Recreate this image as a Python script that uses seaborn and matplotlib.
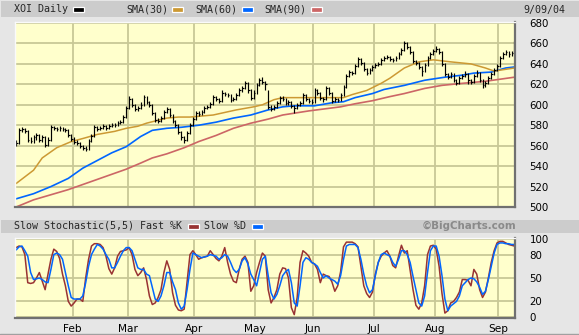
import numpy as np
import pandas as pd
import matplotlib
matplotlib.use("Agg")
import matplotlib.pyplot as plt
from matplotlib.patches import Rectangle
import seaborn as sns

# ---------------- data ----------------
months = ['Feb', 'Mar', 'Apr', 'May', 'Jun', 'Jul', 'Aug', 'Sep']
month_start_idx = [20, 39, 62, 83, 103, 124, 145, 167]

closes = [563, 575, 576, 574, 566, 565, 568, 570, 566, 568,
          561, 566, 578, 577, 576, 577, 576, 575, 570, 567,
          564, 563, 560, 558, 557, 565, 569, 578, 576, 577,
          579, 577, 579, 580, 580, 582, 583, 588, 597, 606,
          600, 596, 597, 600, 608, 603, 600, 592, 585, 584,
          587, 593, 596, 590, 584, 580, 573, 568, 566, 572,
          580, 586, 592, 591, 593, 597, 598, 601, 608, 606,
          604, 612, 611, 610, 605, 606, 610, 614, 616, 621,
          614, 607, 612, 619, 624, 622, 620, 598, 596, 598,
          602, 607, 606, 602, 603, 599, 597, 600, 602, 610,
          606, 604, 603, 614, 612, 607, 606, 616, 612, 604,
          606, 605, 610, 617, 628, 632, 631, 638, 645, 641,
          635, 631, 634, 637, 639, 640, 644, 646, 647, 645,
          644, 646, 650, 654, 660, 657, 652, 643, 641, 637,
          633, 639, 646, 650, 653, 655, 652, 640, 630, 627,
          630, 624, 621, 626, 628, 630, 624, 622, 628, 631,
          624, 619, 621, 626, 630, 634, 638, 646, 650, 652,
          650, 651, 660]

highs = [566, 577, 578, 577, 575, 568, 570, 572, 571, 570,
         569, 568, 580, 579, 578, 579, 578, 577, 576, 571,
         568, 566, 564, 561, 560, 567, 571, 580, 579, 579,
         581, 580, 581, 582, 582, 584, 585, 590, 599, 609,
         607, 601, 599, 603, 610, 609, 604, 601, 593, 587,
         589, 595, 598, 597, 591, 585, 581, 574, 569, 574,
         582, 588, 594, 594, 595, 599, 600, 603, 610, 609,
         607, 614, 613, 612, 611, 608, 612, 616, 618, 623,
         622, 615, 614, 621, 626, 627, 623, 614, 600, 600,
         604, 609, 609, 607, 605, 604, 600, 602, 604, 612,
         611, 607, 606, 616, 615, 613, 608, 618, 617, 613,
         608, 607, 612, 619, 630, 634, 633, 640, 647, 646,
         642, 636, 636, 639, 641, 642, 646, 648, 649, 648,
         646, 648, 652, 656, 662, 661, 658, 653, 644, 642,
         638, 641, 648, 652, 655, 658, 656, 653, 641, 631,
         632, 631, 625, 628, 630, 633, 631, 625, 630, 634,
         632, 625, 623, 628, 632, 636, 640, 648, 652, 654,
         653, 653, 662]

lows = [560, 562, 573, 572, 564, 563, 563, 566, 564, 564,
        559, 560, 565, 575, 574, 574, 574, 573, 568, 565,
        562, 561, 558, 556, 555, 556, 564, 568, 574, 575,
        576, 575, 576, 578, 578, 579, 581, 582, 587, 596,
        598, 594, 594, 596, 599, 601, 598, 590, 583, 582,
        583, 586, 592, 588, 582, 578, 571, 566, 563, 565,
        571, 579, 585, 589, 590, 592, 596, 597, 600, 604,
        602, 603, 609, 608, 603, 604, 605, 609, 613, 615,
        612, 605, 606, 611, 618, 620, 614, 596, 594, 595,
        597, 601, 604, 600, 600, 597, 592, 596, 599, 601,
        604, 602, 601, 602, 610, 605, 603, 605, 610, 602,
        603, 603, 604, 609, 616, 627, 629, 630, 637, 639,
        633, 629, 630, 633, 636, 638, 639, 643, 645, 643,
        642, 643, 645, 649, 653, 655, 650, 641, 639, 635,
        628, 632, 638, 645, 649, 652, 650, 638, 628, 625,
        626, 622, 619, 620, 625, 627, 620, 620, 621, 627,
        622, 616, 617, 620, 625, 629, 633, 637, 645, 649,
        647, 648, 650]

sma30_idx = [0, 6, 9, 14, 19, 23, 28, 34, 38, 42, 45, 52, 56, 60, 68, 76, 82, 85, 89,
             92, 100, 113, 116, 121, 126, 129, 134, 139, 144, 150, 157, 162, 165, 172]
sma30_val = [523, 536, 548, 558, 564, 567, 571, 574, 577, 579, 582, 587, 588, 588, 590,
             595, 598, 600, 605, 607, 607, 607, 610, 614, 621, 626, 636, 642, 644, 642,
             640, 636, 633, 636]

sma60_idx = [0, 6, 12, 18, 23, 29, 33, 38, 43, 47, 52, 57, 63, 69, 75, 81, 87, 92, 96,
             103, 109, 113, 117, 123, 127, 134, 141, 148, 154, 158, 164, 169, 172]
sma60_val = [508, 513, 520, 528, 538, 547, 553, 559, 569, 575, 577, 578, 580, 583, 587,
             590, 595, 598, 599, 599, 602, 603, 607, 611, 615, 619, 624, 627, 629, 631,
             632, 636, 637]

sma90_idx = [0, 6, 12, 18, 23, 29, 35, 38, 43, 47, 52, 58, 63, 69, 75, 81, 87, 92, 101,
             112, 117, 123, 129, 134, 141, 147, 154, 162, 172]
sma90_val = [500, 507, 512, 517, 522, 528, 534, 537, 543, 548, 552, 558, 564, 570, 577,
             582, 586, 590, 594, 598, 601, 604, 608, 611, 616, 619, 621, 623, 627]

fast_k = [89, 91, 90, 80, 44, 43, 44, 50, 57, 46,
          35, 55, 74, 87, 84, 75, 55, 40, 20, 14,
          18, 23, 23, 20, 50, 74, 91, 94, 94, 93,
          89, 78, 62, 55, 63, 78, 84, 85, 86, 89,
          80, 61, 53, 57, 63, 48, 27, 16, 18, 25,
          35, 57, 72, 61, 31, 15, 9, 8, 10, 45,
          80, 85, 80, 74, 76, 77, 78, 85, 80, 75,
          72, 78, 89, 70, 55, 46, 44, 61, 74, 78,
          70, 33, 40, 57, 70, 82, 78, 35, 18, 25,
          35, 55, 63, 62, 50, 12, 3, 25, 70, 85,
          82, 78, 70, 68, 61, 44, 55, 53, 52, 45,
          33, 40, 58, 90, 96, 96, 96, 94, 90, 65,
          40, 30, 25, 32, 55, 70, 78, 82, 85, 78,
          66, 63, 78, 92, 82, 85, 60, 35, 15, 10,
          18, 40, 80, 91, 92, 87, 65, 30, 5, 8,
          18, 20, 25, 32, 48, 48, 47, 40, 61, 55,
          35, 25, 32, 50, 70, 85, 95, 97, 97, 95,
          93, 92, 91]

slow_d = [86, 90, 91, 85, 78, 57, 48, 49, 50, 48,
          45, 44, 61, 80, 82, 80, 74, 57, 40, 25,
          23, 23, 23, 27, 44, 65, 80, 87, 93, 91,
          87, 80, 74, 63, 63, 70, 78, 85, 89, 89,
          85, 74, 63, 61, 61, 55, 53, 38, 23, 20,
          27, 40, 57, 57, 45, 35, 18, 10, 14, 35,
          61, 82, 80, 78, 76, 77, 78, 80, 79, 78,
          74, 76, 80, 78, 70, 61, 57, 61, 72, 76,
          68, 55, 48, 40, 57, 74, 78, 53, 31, 23,
          29, 40, 53, 58, 61, 44, 18, 14, 40, 70,
          76, 74, 70, 68, 65, 57, 50, 53, 50, 48,
          46, 42, 53, 74, 91, 93, 93, 93, 89, 74,
          55, 40, 31, 35, 53, 70, 80, 82, 80, 78,
          70, 65, 74, 85, 85, 80, 70, 52, 35, 18,
          14, 27, 57, 85, 91, 91, 78, 53, 23, 8,
          14, 17, 20, 27, 40, 44, 48, 50, 49, 45,
          38, 29, 33, 48, 65, 82, 93, 95, 95, 94,
          94, 93, 93]

price_ticks = [500, 520, 540, 560, 580, 600, 620, 640, 660, 680]
stoch_ticks = [0, 20, 50, 80, 100]

# ---------------- styling ----------------
W, H = 579, 335
BG = '#e6e6e6'
BAR = '#cccccc'
PLOT_BG = '#ffffcc'
GRID = '#c8c896'
C_PRICE = '#000000'
C_SMA30 = '#cc9933'
C_SMA60 = '#0066ff'
C_SMA90 = '#cc6666'
C_K = '#993333'
C_D = '#0066ff'
MONO = 'DejaVu Sans Mono'

sns.set_style("white")
plt.rcParams['font.family'] = ['DejaVu Sans']

fig = plt.figure(figsize=(W / 100, H / 100), dpi=100)
fig.patch.set_facecolor(BG)


def box(x0, y0, x1, y1):
    return [x0 / W, 1 - y1 / H, (x1 - x0) / W, (y1 - y0) / H]


# background / header bars (pixel coordinates)
bg = fig.add_axes([0, 0, 1, 1], zorder=0)
bg.set_xlim(0, W)
bg.set_ylim(H, 0)
bg.axis('off')
bg.add_patch(Rectangle((1, 1), W - 1, 16, facecolor=BAR, edgecolor='none'))
bg.add_patch(Rectangle((1, 220), W - 1, 13, facecolor=BAR, edgecolor='none'))
bg.plot([0, W], [334, 334], color='#a0a0a0', lw=1.0)


def swatch(x0, y, color):
    bg.add_patch(Rectangle((x0, y - 2.5), 11, 5, facecolor=color,
                           edgecolor='white', lw=0.9))


hy = 9.5
bg.text(14, hy, 'XOI Daily', family=MONO, size=7.2, va='center', ha='left')
swatch(73, hy, C_PRICE)
bg.text(126, hy, 'SMA(30)', family=MONO, size=7.2, va='center', ha='left')
swatch(172, hy, C_SMA30)
bg.text(195, hy, 'SMA(60)', family=MONO, size=7.2, va='center', ha='left')
swatch(242, hy, C_SMA60)
bg.text(264, hy, 'SMA(90)', family=MONO, size=7.2, va='center', ha='left')
swatch(311, hy, C_SMA90)
bg.text(565, hy, '9/09/04', family=MONO, size=7.2, va='center', ha='right')

sy = 226
bg.text(14, sy, 'Slow Stochastic(5,5) Fast %K', family=MONO, size=7.2,
        va='center', ha='left')
swatch(188, sy, C_K)
bg.text(204, sy, 'Slow %D', family=MONO, size=7.2, va='center', ha='left')
swatch(252, sy, C_D)
bg.text(516, sy, '\u00a9BigCharts.com', size=7.4, weight='bold', color='#8a8a8a',
        va='center', ha='right')

idx = np.arange(len(closes))
xlo, xhi = -0.4, 172.2
grid_pos = [m - 0.5 for m in month_start_idx]


def style_axes(a):
    a.set_facecolor(PLOT_BG)
    a.set_xlim(xlo, xhi)
    a.set_xticks(grid_pos)
    a.grid(True, color=GRID, lw=1.3)
    a.set_axisbelow(True)
    for s in ['top', 'left']:
        a.spines[s].set_color('#fafafa')
        a.spines[s].set_linewidth(1.0)
    for s in ['bottom', 'right']:
        a.spines[s].set_color('#707070')
        a.spines[s].set_linewidth(1.6)
    a.set_xlabel('')
    a.set_ylabel('')


# ---------------- price panel ----------------
ax = fig.add_axes(box(15, 22, 515, 207), zorder=1)
style_axes(ax)
sns.lineplot(x=sma90_idx, y=sma90_val, ax=ax, color=C_SMA90, lw=1.2, legend=False)
sns.lineplot(x=sma60_idx, y=sma60_val, ax=ax, color=C_SMA60, lw=1.2, legend=False)
sns.lineplot(x=sma30_idx, y=sma30_val, ax=ax, color=C_SMA30, lw=1.1, legend=False)
ax.vlines(idx, lows, highs, color=C_PRICE, lw=0.85)
ax.hlines(closes, idx, idx + 0.6, color=C_PRICE, lw=0.85)
ax.set_ylim(500, 681)
ax.set_yticks(price_ticks)
ax.set_yticklabels([str(t) for t in price_ticks])
ax.tick_params(axis='y', left=False, right=False, labelleft=False,
               labelright=True, pad=7, labelsize=7.4, colors='black')
ax.tick_params(axis='x', bottom=False, labelbottom=False)
ax.set_xticklabels([])

# ---------------- stochastic panel ----------------
ax2 = fig.add_axes(box(15, 238, 515, 318), zorder=1)
style_axes(ax2)
sns.lineplot(x=idx, y=fast_k, ax=ax2, color=C_K, lw=1.1, legend=False)
sns.lineplot(x=idx, y=slow_d, ax=ax2, color=C_D, lw=1.1, legend=False)
ax2.set_ylim(-1.3, 101.3)
ax2.set_yticks(stoch_ticks)
ax2.set_yticklabels([str(t) for t in stoch_ticks])
ax2.tick_params(axis='y', left=False, right=False, labelleft=False,
                labelright=True, pad=7, labelsize=7.4, colors='black')
ax2.set_xticklabels(months)
ax2.tick_params(axis='x', bottom=False, labelbottom=True, pad=0.5,
                labelsize=7.6, colors='black')

fig.savefig('out.png', dpi=100, facecolor=fig.get_facecolor())
